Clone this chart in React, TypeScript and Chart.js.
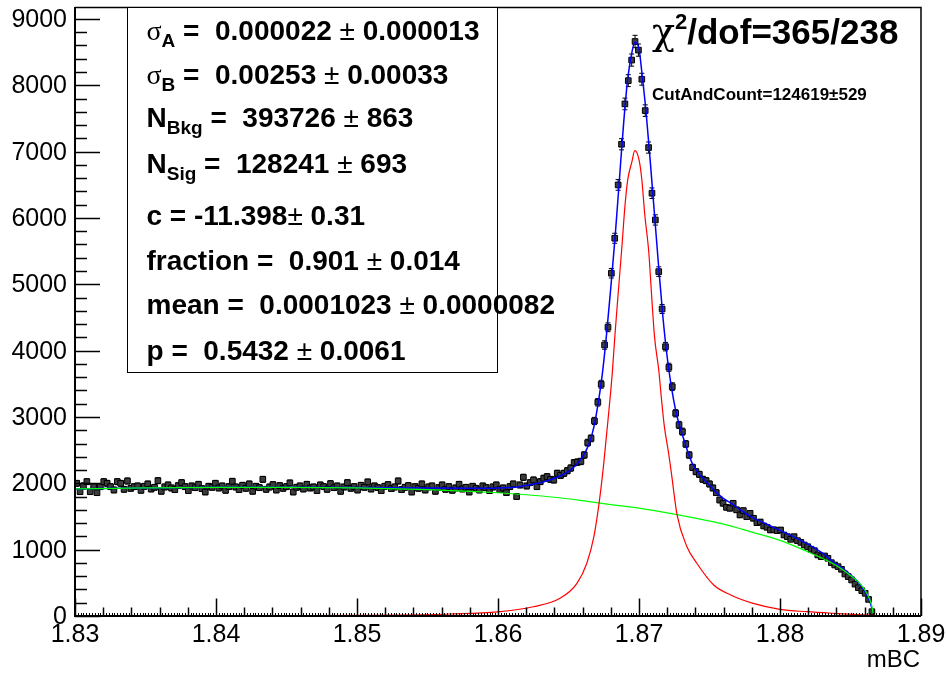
import React, { useEffect, useRef } from 'react';
import { Chart, registerables } from 'chart.js';

Chart.register(...registerables);

// ---------------- data ----------------
const X_MIN = 1.83;
const X_MAX = 1.89;
const Y_MAX = 9180;
const BIN_START = 1.83;
const BIN_WIDTH = 0.00024;

// histogram contents per bin (bin i centred at BIN_START + (i + 0.5) * BIN_WIDTH)
const counts = [
  2000, 1874, 1960, 2025, 1874, 1950, 1859, 1950, 2025, 2000, 1950, 1900, 2025, 2000, 1910, 2035, 1925, 1950, 1960, 1895,
  1955, 1990, 1915, 1940, 2040, 1880, 1945, 1975, 1930, 1905, 1965, 2010, 1950, 1890, 1960, 1935, 1985, 1920, 1870, 1955,
  1940, 2000, 1930, 1960, 1895, 1950, 2030, 1945, 1905, 1970, 1925, 1990, 1880, 1955, 1935, 2060, 1910, 1945, 1980, 1900,
  1965, 1925, 1950, 2005, 1870, 1940, 1960, 1915, 1985, 1930, 1945, 1890, 1975, 1950, 1910, 1995, 1935, 1960, 1880, 1945,
  2010, 1925, 1950, 1900, 1970, 1940, 2020, 1915, 1960, 1935, 1890, 1955, 1980, 1920, 1945, 2035, 1905, 1940, 1965, 1870,
  1950, 1925, 1990, 1900, 1945, 1960, 1880, 1935, 1975, 1910, 1950, 1895, 1930, 1985, 1915, 1940, 1870, 1955, 1925, 1900,
  1960, 1935, 1890, 1945, 1975, 1905, 1930, 1860, 1950, 1990, 1800, 1975, 2091, 1960, 2010, 2050, 1950, 2025, 2076, 2100,
  2060, 2050, 2151, 2120, 2151, 2190, 2230, 2311, 2320, 2330, 2427, 2613, 2678, 2940, 3222, 3493, 4085, 4352, 5167, 5694,
  6498, 7111, 7719, 8070, 8380, 8660, 8530, 8091, 7618, 7061, 6373, 5970, 5191, 4628, 4060, 3749, 3457, 3056, 2880, 2779,
  2593, 2427, 2240, 2176, 2135, 2061, 2040, 1990, 1930, 1859, 1749, 1700, 1639, 1624, 1699, 1600, 1523, 1588, 1497, 1548,
  1473, 1407, 1417, 1357, 1337, 1297, 1300, 1286, 1297, 1221, 1196, 1156, 1196, 1136, 1110, 1070, 1045, 1006, 985, 920,
  894, 905, 870, 804, 769, 744, 704, 633, 593, 543, 480, 427, 382, 342, 250, 65,
];

// total fit (blue)
const totalX = [
  1.83, 1.835, 1.84, 1.845, 1.85, 1.855, 1.858, 1.86, 1.8615, 1.8625, 1.8635, 1.8644, 1.865, 1.8655, 1.866, 1.8665,
  1.8668, 1.8671, 1.8674, 1.8677, 1.868, 1.8683, 1.8686, 1.8689, 1.8692, 1.8695, 1.8697, 1.87, 1.8702, 1.8705, 1.8708,
  1.8711, 1.8714, 1.8717, 1.872, 1.8723, 1.8726, 1.8729, 1.8732, 1.8735, 1.8738, 1.8742, 1.8746, 1.875, 1.8755, 1.876,
  1.8766, 1.8772, 1.878, 1.879, 1.88, 1.881, 1.882, 1.883, 1.8838, 1.8845, 1.885, 1.8855, 1.8859, 1.8862, 1.8864, 1.8866,
];
const totalY = [
  1915, 1930, 1940, 1942, 1938, 1928, 1925, 1930, 1950, 1985, 2040, 2110, 2180, 2270, 2400, 2620,
  2850, 3200, 3650, 4250, 4950, 5700, 6550, 7400, 8100, 8500, 8650, 8550, 8200, 7600, 6850,
  6050, 5250, 4500, 3900, 3450, 3100, 2850, 2650, 2450, 2290, 2160, 2060, 1970, 1860, 1770,
  1690, 1600, 1490, 1390, 1290, 1190, 1080, 950, 810, 710, 620, 520, 410, 300, 200, 50,
];

// background component (green)
const bkgX = [
  1.83, 1.835, 1.84, 1.845, 1.85, 1.855, 1.858, 1.86, 1.862, 1.864, 1.866, 1.868, 1.87, 1.872, 1.874, 1.876,
  1.878, 1.88, 1.882, 1.883, 1.884, 1.885, 1.8855, 1.886, 1.8863, 1.8865, 1.8866,
];
const bkgY = [
  1915, 1930, 1938, 1938, 1930, 1905, 1880, 1858, 1828, 1790, 1738, 1680, 1625, 1555, 1475, 1385,
  1265, 1140, 965, 870, 760, 610, 525, 400, 280, 160, 40,
];

// signal component (red)
const sigX = [
  1.83, 1.84, 1.845, 1.85, 1.853, 1.8566, 1.86, 1.8625, 1.8644, 1.8656, 1.8663, 1.8668, 1.8672, 1.8675, 1.8678,
  1.8681, 1.8683, 1.8685, 1.8688, 1.869, 1.8692, 1.8695, 1.8697, 1.87, 1.8702, 1.8704, 1.8707, 1.8709, 1.8711,
  1.8714, 1.8716, 1.8718, 1.8721, 1.8723, 1.8727, 1.8734, 1.8741, 1.8753, 1.8765, 1.8781, 1.88, 1.8819, 1.8838,
  1.8855, 1.8866,
];
const sigY = [
  0, 3, 6, 10, 15, 30, 62, 140, 267, 493, 795, 1196, 1750, 2300, 2950,
  3650, 4250, 4800, 5600, 6171, 6573, 6850, 7015, 6880, 6580, 6071, 5468, 4814, 4211,
  3709, 3257, 2854, 2453, 2150, 1523, 1045, 795, 467, 317, 191, 101, 65, 40,
  22, 12,
];

const xTickLabels = ['1.83', '1.84', '1.85', '1.86', '1.87', '1.88', '1.89'];
const yTickLabels = ['0', '1000', '2000', '3000', '4000', '5000', '6000', '7000', '8000', '9000'];
const xAxisTitle = 'mBC';

// fit parameter box: symbol, subscript, value text, error text
const paramSymbols = ['σ', 'σ', 'N', 'N', 'c', 'fraction', 'mean', 'p'];
const paramSubs = ['A', 'B', 'Bkg', 'Sig', '', '', '', ''];
const paramValues = [' =  0.000022 ', ' =  0.00253 ', ' =  393726 ', ' =  128241 ', ' = -11.398', ' =  0.901 ', ' =  0.0001023 ', ' =  0.5432 '];
const paramErrors = [' 0.000013', ' 0.00033', ' 863', ' 693', ' 0.31', ' 0.014', ' 0.0000082', ' 0.0061'];
const chiText = '/dof=365/238';
const cutText = 'CutAndCount=124619±529';

// ---------------- drawing helpers ----------------
const SANS = '"Liberation Sans", Arial, Helvetica, sans-serif';
const SERIF = '"Liberation Serif", "Times New Roman", serif';

type Seg = { t: string; f: string; dy?: number };
function drawSegs(ctx: CanvasRenderingContext2D, x: number, y: number, segs: Seg[]) {
  let cx = x;
  for (const s of segs) {
    ctx.font = s.f;
    ctx.fillText(s.t, cx, y + (s.dy || 0));
    cx += ctx.measureText(s.t).width;
  }
}

const errorBarPlugin = {
  id: 'errorBars',
  beforeDatasetsDraw(chart: any) {
    const ctx = chart.ctx as CanvasRenderingContext2D;
    const xs = chart.scales.x;
    const ys = chart.scales.y;
    ctx.save();
    ctx.strokeStyle = '#000';
    ctx.lineWidth = 1;
    counts.forEach((c, i) => {
      const xv = BIN_START + (i + 0.5) * BIN_WIDTH;
      const e = Math.sqrt(c);
      const px = xs.getPixelForValue(xv);
      const y1 = ys.getPixelForValue(c - e);
      const y2 = ys.getPixelForValue(c + e);
      ctx.beginPath();
      ctx.moveTo(px, y1);
      ctx.lineTo(px, y2);
      ctx.moveTo(px - 2.5, y1);
      ctx.lineTo(px + 2.5, y1);
      ctx.moveTo(px - 2.5, y2);
      ctx.lineTo(px + 2.5, y2);
      ctx.stroke();
    });
    ctx.restore();
  },
};

const framePlugin = {
  id: 'rootFrame',
  afterDraw(chart: any) {
    const ctx = chart.ctx as CanvasRenderingContext2D;
    const xs = chart.scales.x;
    const ys = chart.scales.y;
    const a = chart.chartArea;
    ctx.save();
    ctx.strokeStyle = '#000';
    ctx.fillStyle = '#000';

    // frame
    ctx.lineWidth = 1.5;
    ctx.beginPath();
    ctx.moveTo(a.left, a.top + 0.5);
    ctx.lineTo(a.right, a.top + 0.5);
    ctx.lineTo(a.right, a.bottom);
    ctx.stroke();
    ctx.lineWidth = 2;
    ctx.beginPath();
    ctx.moveTo(a.left, a.top);
    ctx.lineTo(a.left, a.bottom);
    ctx.lineTo(a.right, a.bottom);
    ctx.stroke();

    // y ticks (inward)
    ctx.lineWidth = 1.5;
    for (let i = 0; i <= 45; i++) {
      const v = i * 200;
      const py = Math.round(ys.getPixelForValue(v)) + 0.5;
      const len = i % 5 === 0 ? 25 : 12;
      ctx.beginPath();
      ctx.moveTo(a.left, py);
      ctx.lineTo(a.left + len, py);
      ctx.stroke();
    }
    // x ticks (inward)
    for (let i = 0; i <= 300; i++) {
      const v = X_MIN + i * 0.0002;
      const px = Math.round(xs.getPixelForValue(v)) + 0.5;
      const len = i % 50 === 0 ? 17.5 : i % 10 === 0 ? 8.5 : 3;
      ctx.lineWidth = i % 10 === 0 ? 1.5 : 1;
      ctx.beginPath();
      ctx.moveTo(px, a.bottom);
      ctx.lineTo(px, a.bottom - len);
      ctx.stroke();
    }

    // tick labels
    ctx.font = `25px ${SANS}`;
    ctx.textAlign = 'right';
    ctx.textBaseline = 'middle';
    yTickLabels.forEach((l) => {
      ctx.fillText(l, a.left - 8, ys.getPixelForValue(parseFloat(l)) + 1);
    });
    ctx.textAlign = 'center';
    ctx.textBaseline = 'alphabetic';
    xTickLabels.forEach((l) => {
      ctx.fillText(l, xs.getPixelForValue(parseFloat(l)), a.bottom + 26);
    });
    ctx.font = `24px ${SANS}`;
    ctx.textAlign = 'right';
    ctx.fillText(xAxisTitle, a.right - 1, a.bottom + 51);

    // parameter box
    const bx = xs.getPixelForValue(1.83) + 52.5;
    ctx.fillStyle = '#fff';
    ctx.fillRect(bx, a.top + 0.5, 370, 365);
    ctx.lineWidth = 1;
    ctx.strokeRect(bx, a.top + 0.5, 370, 365);
    ctx.fillStyle = '#000';
    ctx.textAlign = 'left';
    const B = `bold 28px ${SANS}`;
    const SUB = `bold 19px ${SANS}`;
    const GR = `28px ${SERIF}`;
    const PM = `28px ${SANS}`;
    const baselines = [40, 84, 127, 173, 225, 270, 314, 360];
    paramSymbols.forEach((sym, i) => {
      const segs: Seg[] = [];
      segs.push({ t: sym, f: sym === 'σ' ? GR : B });
      if (paramSubs[i]) segs.push({ t: paramSubs[i], f: SUB, dy: 7 });
      segs.push({ t: paramValues[i], f: B });
      segs.push({ t: '±', f: PM });
      segs.push({ t: paramErrors[i], f: B });
      drawSegs(ctx, bx + 19, baselines[i], segs);
    });

    // chi2 and cut-and-count
    drawSegs(ctx, 652, 44, [
      { t: 'χ', f: `38px "DejaVu Serif", ${SERIF}` },
      { t: '2', f: `bold 22px ${SANS}`, dy: -15 },
      { t: chiText, f: `bold 35px ${SANS}` },
    ]);
    drawSegs(ctx, 652, 100, [{ t: cutText, f: `bold 17px ${SANS}` }]);

    ctx.restore();
  },
};

export default function App() {
  const ref = useRef<HTMLCanvasElement | null>(null);
  useEffect(() => {
    if (!ref.current) return;
    const dataPts = counts.map((c, i) => ({ x: BIN_START + (i + 0.5) * BIN_WIDTH, y: c }));
    const totPts = totalX.map((x, i) => ({ x, y: totalY[i] }));
    const bkgPts = bkgX.map((x, i) => ({ x, y: bkgY[i] }));
    const sigPts = sigX.map((x, i) => ({ x, y: sigY[i] }));
    const chart = new Chart(ref.current, {
      type: 'line',
      data: {
        datasets: [
          {
            data: dataPts,
            showLine: false,
            pointStyle: 'rect',
            pointRadius: 4,
            pointBackgroundColor: '#3c3c3c',
            pointBorderColor: '#000',
            pointBorderWidth: 1,
            order: 4,
          },
          {
            data: totPts,
            borderColor: '#0000ff',
            borderWidth: 1.5,
            pointRadius: 0,
            cubicInterpolationMode: 'monotone',
            fill: false,
            order: 3,
          },
          {
            data: bkgPts,
            borderColor: '#00ff00',
            borderWidth: 1.2,
            pointRadius: 0,
            cubicInterpolationMode: 'monotone',
            fill: false,
            order: 2,
          },
          {
            data: sigPts,
            borderColor: '#ff0000',
            borderWidth: 1.2,
            pointRadius: 0,
            cubicInterpolationMode: 'monotone',
            fill: false,
            order: 1,
          },
        ] as any,
      },
      options: {
        animation: false,
        responsive: false,
        devicePixelRatio: 1,
        layout: { padding: { left: 0, right: 25, top: 7, bottom: 0 } },
        plugins: { legend: { display: false }, tooltip: { enabled: false } },
        scales: {
          x: {
            type: 'linear',
            min: X_MIN,
            max: X_MAX,
            ticks: { display: false },
            grid: { display: false },
            border: { display: false },
            afterFit: (s: any) => {
              s.height = 60;
            },
          },
          y: {
            type: 'linear',
            min: 0,
            max: Y_MAX,
            ticks: { display: false },
            grid: { display: false },
            border: { display: false },
            afterFit: (s: any) => {
              s.width = 75;
            },
          },
        },
      } as any,
      plugins: [errorBarPlugin, framePlugin],
    });
    return () => chart.destroy();
  }, []);
  return (
    <div style={{ position: 'absolute', left: 0, top: 0, width: 946, height: 676, background: '#fff' }}>
      <canvas ref={ref} width={946} height={676} style={{ display: 'block' }} />
    </div>
  );
}
